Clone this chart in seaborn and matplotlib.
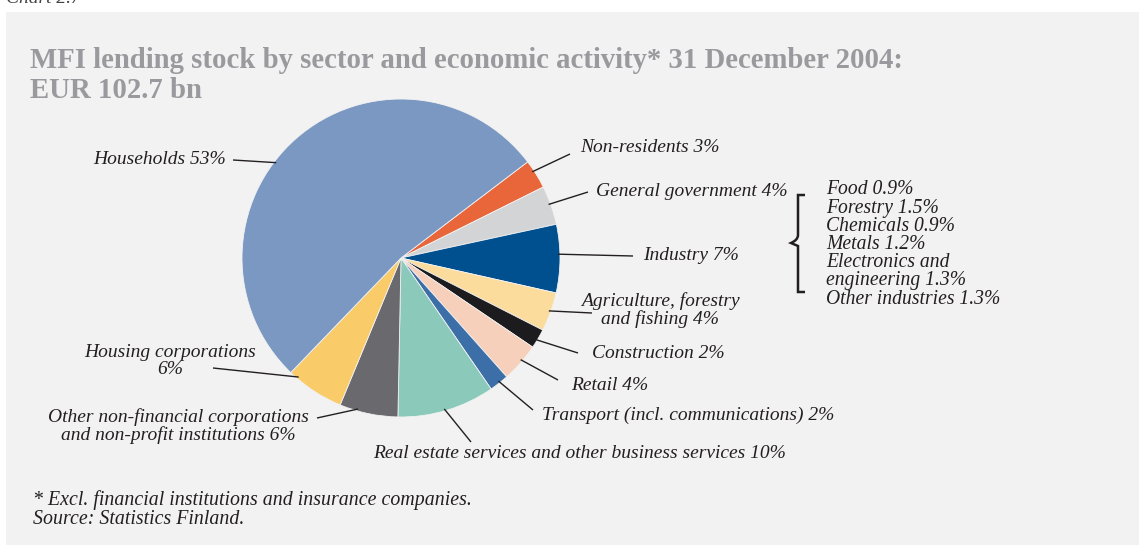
import numpy as np
import matplotlib
matplotlib.use("Agg")
import matplotlib.pyplot as plt
import seaborn as sns
from matplotlib.patches import Rectangle, PathPatch
from matplotlib.path import Path

# Lending stock shares (%), clockwise from the top-right
sectors = [
    "Non-residents", "General government", "Industry",
    "Agriculture, forestry\nand fishing", "Construction", "Retail",
    "Transport (incl. communications)",
    "Real estate services and other business services",
    "Other non-financial corporations\nand non-profit institutions",
    "Housing corporations", "Households",
]
shares = [3, 4, 7, 4, 2, 4, 2, 10, 6, 6, 53]
sector_colors = [
    "#e8663a", "#d3d4d5", "#004f8e", "#fbdc9d", "#1c1c1e", "#f6d0bb",
    "#3c6ea8", "#8bcabb", "#6a696e", "#f9cb69", "#7b98c3",
]

# Industry breakdown (%)
industry_parts = ["Food", "Forestry", "Chemicals", "Metals",
                  "Electronics and\nengineering", "Other industries"]
industry_shares = [0.9, 1.5, 0.9, 1.2, 1.3, 1.3]

label_texts = [
    "Non-residents 3%", "General government 4%", "Industry 7%",
    "Agriculture, forestry\nand fishing 4%", "Construction 2%", "Retail 4%",
    "Transport (incl. communications) 2%",
    "Real estate services and other business services 10%",
    "Other non-financial corporations\nand non-profit institutions 6%",
    "Housing corporations\n6%", "Households 53%",
]

sns.set_theme(style="white")
palette = sns.color_palette(sector_colors)
plt.rcParams["font.family"] = ["Liberation Serif", "DejaVu Serif"]

W, H = 1139, 545
fig = plt.figure(figsize=(W / 100, H / 100), dpi=100, facecolor="white")
ax = fig.add_axes([0, 0, 1, 1])


def Y(py):
    return H - py


TXT = "#231f20"
ax.add_patch(Rectangle((6, 0), W - 6, H - 12, facecolor="#f2f2f2",
                       edgecolor="none", zorder=0))

cx, cy, R = 401, Y(258), 159
wedges, _ = ax.pie(shares, colors=palette, startangle=37.2, counterclock=False,
                   center=(cx, cy), radius=R,
                   wedgeprops=dict(linewidth=0.6, edgecolor="#f2f2f2"))
for w in wedges:
    w.set_zorder(2)

# label layout: (fraction along wedge for leader start, leader end px, text anchor px, ha)
layout = [
    (0.635, (570, 154), (580, 148), "left"),
    (0.54, (588, 192), (596, 191), "left"),
    (0.565, (633, 256), (643, 256), "left"),
    (0.51, (592, 313), (660, 310), "center"),
    (0.40, (578, 353), (592, 354), "left"),
    (0.56, (558, 380), (571, 385), "left"),
    (0.54, (533, 410), (542, 415), "left"),
    (0.48, (471, 442), (373, 453), "left"),
    (0.31, (317, 418), (178, 426), "center"),
    (0.15, (213, 368), (170, 361), "center"),
    (0.558, (233, 160), (226, 160), "right"),
]

for w, txt, (frac, end, anchor, ha) in zip(wedges, label_texts, layout):
    ang = np.deg2rad(w.theta1 + frac * (w.theta2 - w.theta1))
    sx, sy = cx + (R - 2) * np.cos(ang), cy + (R - 2) * np.sin(ang)
    ax.plot([sx, end[0]], [sy, Y(end[1])], color=TXT, lw=1.0, zorder=3,
            solid_capstyle="butt")
    ax.text(anchor[0], Y(anchor[1]), txt, ha=ha, va="center", fontsize=14,
            style="italic", color=TXT, linespacing=1.05, zorder=4)

# brace grouping the industry breakdown
bx = 798
brace = Path(
    [(805, Y(195)), (bx, Y(195)), (bx, Y(195)), (bx, Y(235)),
     (bx, Y(240)), (791, Y(243)), (791, Y(243)),
     (791, Y(243)), (bx, Y(246)), (bx, Y(251)),
     (bx, Y(291)), (bx, Y(292)), (805, Y(292))],
    [Path.MOVETO, Path.CURVE3, Path.CURVE3, Path.LINETO,
     Path.CURVE3, Path.CURVE3, Path.LINETO,
     Path.CURVE3, Path.CURVE3, Path.LINETO,
     Path.CURVE3, Path.CURVE3, Path.LINETO],
)
ax.add_patch(PathPatch(brace, facecolor="none", edgecolor=TXT, lw=1.8, zorder=3))

lines = []
for name, v in zip(industry_parts, industry_shares):
    lines.extend(f"{name} {v:.1f}%".split("\n"))
for i, ln in enumerate(lines):
    ax.text(826, Y(190 + i * 18.2), ln, ha="left", va="center", fontsize=14.1,
            style="italic", color=TXT, zorder=4)

# headings and notes
ax.text(6, Y(3), "Chart 2.7", ha="left", va="baseline", fontsize=14,
        style="italic", color="#444444")
ax.text(30, Y(68), "MFI lending stock by sector and economic activity* 31 December 2004:",
        ha="left", va="baseline", fontsize=20.7, fontweight="bold", color="#9a9a9e")
ax.text(30, Y(98), "EUR 102.7 bn", ha="left", va="baseline", fontsize=20.7,
        fontweight="bold", color="#9a9a9e")
ax.text(33, Y(500), "* Excl. financial institutions and insurance companies.",
        ha="left", va="center", fontsize=14.3, style="italic", color=TXT)
ax.text(33, Y(520), "Source: Statistics Finland.", ha="left", va="center",
        fontsize=14.3, style="italic", color=TXT)

ax.set_xlim(0, W)
ax.set_ylim(0, H)
ax.set_aspect("auto")
ax.axis("off")

fig.savefig("out.png", dpi=100, facecolor="white")
